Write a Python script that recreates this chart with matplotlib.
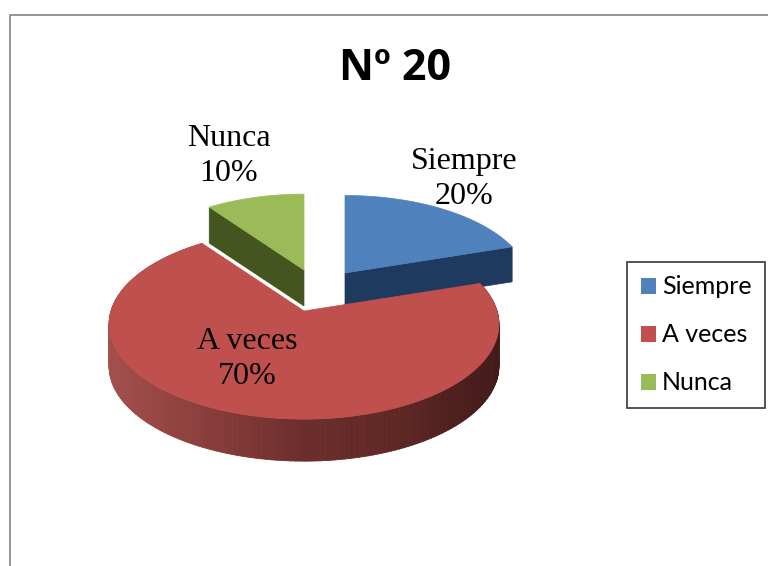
import numpy as np
import matplotlib
matplotlib.use('Agg')
import matplotlib.pyplot as plt
from matplotlib.patches import Patch, Polygon
from matplotlib.collections import PolyCollection
from matplotlib.colors import LinearSegmentedColormap

labels = ['Siempre', 'A veces', 'Nunca']
values = [20, 70, 10]
colors = ['#4f81bd', '#c0504d', '#9bbb59']
side_colors = ['#1f3a5f', '#7a3432', '#45551f']

# pie geometry in pixels, tilted ellipse with a bit of perspective
RX = 193
RY = 93
PERSP = 0.14

# apex x, apex y, scale, depth of the wall
geom = [(345, 273, 0.95, 35), (304, 311, 1.0, 42), (304, 270, 0.93, 36)]

red_wall = LinearSegmentedColormap.from_list(
    'wall', ['#a34f4c', '#8a3e3b', '#6c2e2c', '#5e2724', '#421a18'])


def rim(th, cx, cy, s):
    # th in degrees, clockwise from the top
    t = np.radians(th)
    p = 1 / (1 + PERSP * np.cos(t))
    return cx + s * RX * np.sin(t) * p, cy - s * RY * np.cos(t) * p


fig = plt.figure(figsize=(7.68, 5.66), dpi=100)
ax = fig.add_axes([0, 0, 1, 1])
ax.set_xlim(0, 768)
ax.set_ylim(566, 0)
ax.axis('off')

# chart frame, only left and top are in the picture
ax.plot([10, 10, 768], [566, 15, 15], color='#8c8c8c', lw=1.3)

edges = np.cumsum([0] + values) * 360 / sum(values)

# green and blue first, they sit behind the red slice
for i in [2, 0, 1]:
    cx, cy, s, d = geom[i]
    th = np.linspace(edges[i], edges[i + 1], 200)
    x, y = rim(th, cx, cy, s)
    if i == 1:
        # outer wall, shaded in thin strips
        quads = []
        cols = []
        for j in range(len(th) - 1):
            quads.append([(x[j], y[j]), (x[j + 1], y[j + 1]),
                          (x[j + 1], y[j + 1] + d), (x[j], y[j] + d)])
            cols.append(red_wall(np.clip((x[j] + x[j + 1]) / 2 - 108, 0, 390) / 390))
        ax.add_collection(PolyCollection(quads, facecolors=cols, edgecolors=cols, lw=0.6))
    else:
        # the cut face that looks at the viewer
        k = 0 if i == 2 else -1
        ax.add_patch(Polygon([(cx, cy), (x[k], y[k]), (x[k], y[k] + d), (cx, cy + d)],
                             facecolor=side_colors[i], edgecolor=side_colors[i], lw=0.5))
    ax.add_patch(Polygon(np.column_stack([np.r_[cx, x], np.r_[cy, y]]),
                         facecolor=colors[i], edgecolor=colors[i], lw=0.5))

serif = 'Liberation Serif'
ax.text(464, 179, labels[0] + '\n' + str(values[0]) + '%', family=serif, fontsize=23,
        ha='center', va='center', linespacing=1.25, color='black')
ax.text(247, 359, labels[1] + '\n' + str(values[1]) + '%', family=serif, fontsize=23,
        ha='center', va='center', linespacing=1.25, color='black')
ax.text(229, 156, labels[2] + '\n' + str(values[2]) + '%', family=serif, fontsize=23,
        ha='center', va='center', linespacing=1.25, color='black')

ax.text(395, 68, 'Nº 20', family='Open Sans', fontweight='bold', fontsize=31,
        ha='center', va='center', color='black')

handles = [Patch(facecolor=c, edgecolor='none', label=l) for c, l in zip(colors, labels)]
leg = ax.legend(handles=handles, loc='center', bbox_to_anchor=(696 / 768, 1 - 335 / 566),
                prop={'family': 'Lato', 'size': 18}, frameon=True, fancybox=False,
                edgecolor='#444444', framealpha=1, labelspacing=1.0, handlelength=0.6,
                handleheight=0.6, handletextpad=0.24, borderpad=0.55, borderaxespad=0)
leg.get_frame().set_linewidth(1.3)

plt.savefig('out.png', dpi=100)
